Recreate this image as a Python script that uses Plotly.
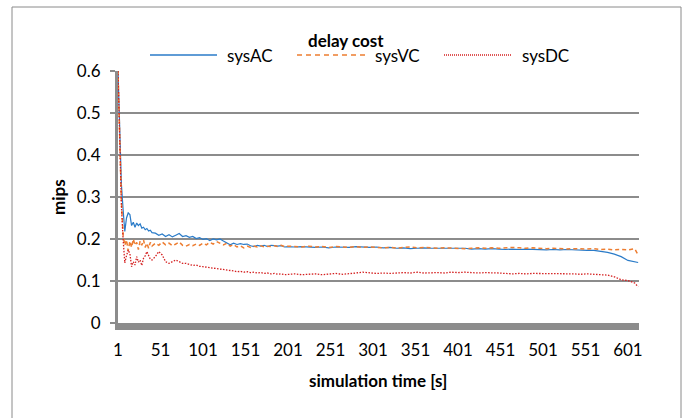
import plotly.graph_objects as go

# ---------------- data ----------------
t_seg_a = list(range(1, 42, 2))          # 1..41 every 2 s
t_seg_b = list(range(45, 202, 4))        # 45..201 every 4 s
t_seg_c = list(range(209, 610, 8)) + [613]  # 209..609 every 8 s, plus last
time_s = t_seg_a + t_seg_b + t_seg_c

sysAC = [
    # 1..41
    0.60, 0.45, 0.33, 0.27, 0.218, 0.25, 0.262, 0.258, 0.232, 0.24,
    0.228, 0.238, 0.232, 0.236, 0.226, 0.228, 0.222, 0.225, 0.219, 0.221, 0.215,
    # 45..201
    0.214, 0.209, 0.212, 0.206, 0.210, 0.205, 0.209, 0.213, 0.206, 0.208,
    0.204, 0.206, 0.201, 0.203, 0.199, 0.201, 0.196, 0.200, 0.198, 0.200,
    0.195, 0.190, 0.186, 0.190, 0.187, 0.189, 0.187, 0.188, 0.184, 0.182,
    0.185, 0.183, 0.185, 0.182, 0.185, 0.184, 0.183, 0.184, 0.181, 0.182,
    # 209..609, 613
    0.181, 0.182, 0.181, 0.180, 0.181, 0.179, 0.181, 0.181, 0.180, 0.182,
    0.181, 0.180, 0.181, 0.179, 0.180, 0.178, 0.179, 0.177, 0.178, 0.179,
    0.178, 0.178, 0.177, 0.178, 0.177, 0.178, 0.176, 0.177, 0.176, 0.177,
    0.176, 0.175, 0.176, 0.175, 0.176, 0.175, 0.175, 0.174, 0.175, 0.174,
    0.175, 0.174, 0.174, 0.173, 0.173, 0.171, 0.168, 0.164, 0.158, 0.149,
    0.146, 0.144,
]

sysVC = [
    # 1..41
    0.60, 0.43, 0.29, 0.21, 0.185, 0.198, 0.172, 0.195, 0.180, 0.200,
    0.185, 0.192, 0.175, 0.195, 0.185, 0.198, 0.180, 0.190, 0.178, 0.192, 0.183,
    # 45..201
    0.190, 0.185, 0.193, 0.186, 0.190, 0.184, 0.188, 0.193, 0.185, 0.183,
    0.187, 0.184, 0.188, 0.185, 0.190, 0.186, 0.192, 0.188, 0.194, 0.190,
    0.186, 0.190, 0.183, 0.187, 0.181, 0.184, 0.179, 0.183, 0.180, 0.183,
    0.181, 0.184, 0.181, 0.183, 0.182, 0.184, 0.182, 0.185, 0.182, 0.183,
    # 209..609, 613
    0.182, 0.181, 0.183, 0.181, 0.182, 0.180, 0.182, 0.181, 0.180, 0.182,
    0.180, 0.181, 0.180, 0.179, 0.180, 0.178, 0.180, 0.181, 0.179, 0.180,
    0.179, 0.178, 0.179, 0.178, 0.178, 0.177, 0.178, 0.179, 0.178, 0.179,
    0.178, 0.179, 0.180, 0.179, 0.178, 0.179, 0.178, 0.177, 0.178, 0.177,
    0.176, 0.177, 0.176, 0.176, 0.177, 0.175, 0.176, 0.174, 0.175, 0.174,
    0.177, 0.162,
]

sysDC = [
    # 1..41
    0.60, 0.42, 0.28, 0.20, 0.143, 0.160, 0.174, 0.165, 0.134, 0.146,
    0.138, 0.158, 0.145, 0.150, 0.137, 0.154, 0.160, 0.170, 0.160, 0.152, 0.150,
    # 45..201
    0.158, 0.170, 0.162, 0.146, 0.142, 0.146, 0.150, 0.146, 0.142, 0.142,
    0.139, 0.137, 0.138, 0.135, 0.134, 0.133, 0.131, 0.130, 0.129, 0.128,
    0.127, 0.126, 0.125, 0.124, 0.122, 0.123, 0.121, 0.122, 0.120, 0.121,
    0.119, 0.120, 0.118, 0.119, 0.117, 0.118, 0.116, 0.117, 0.115, 0.116,
    # 209..609, 613
    0.117, 0.115, 0.116, 0.117, 0.115, 0.117, 0.118, 0.116, 0.117, 0.119,
    0.121, 0.120, 0.118, 0.119, 0.118, 0.119, 0.120, 0.119, 0.121, 0.119,
    0.120, 0.120, 0.119, 0.121, 0.120, 0.121, 0.120, 0.119, 0.120, 0.120,
    0.119, 0.118, 0.117, 0.118, 0.117, 0.118, 0.118, 0.117, 0.117, 0.117,
    0.118, 0.117, 0.116, 0.117, 0.116, 0.115, 0.114, 0.110, 0.103, 0.101,
    0.095, 0.086,
]

x_tickvals = [1, 51, 101, 151, 201, 251, 301, 351, 401, 451, 501, 551, 601]
x_ticktext = ["1", "51", "101", "151", "201", "251", "301", "351", "401", "451", "501", "551", "601"]
y_tickvals = [0, 0.1, 0.2, 0.3, 0.4, 0.5, 0.6]
y_ticktext = ["0", "0.1", "0.2", "0.3", "0.4", "0.5", "0.6"]

series_names = ["sysAC", "sysVC", "sysDC"]
series_values = [sysAC, sysVC, sysDC]

# ---------------- styling ----------------
FONT = "Lato, 'Open Sans', sans-serif"
GRID = "#8c8c8c"
colors = ["#2a7bc8", "#ed7d31", "#d42020"]
dashes = ["solid", "4px,3px", "1.5px,1.5px"]
widths = [1.2, 1.5, 1.3]

W_PX, H_PX = 682, 418
L, R, T, B = 118, 43, 71, 95
PW, PH = W_PX - L - R, H_PX - T - B


def px_x(px):
    return (px - L) / PW


def px_y(py):
    return (H_PX - B - py) / PH


fig = go.Figure()
for name, vals, c, d, w in zip(series_names, series_values, colors, dashes, widths):
    fig.add_trace(go.Scatter(
        x=time_s, y=vals, mode="lines", name=name, showlegend=False,
        line=dict(color=c, width=w, dash=d),
    ))

shapes = []
annotations = []

# outer chart border
shapes.append(dict(type="rect", xref="paper", yref="paper",
                   x0=px_x(12), x1=px_x(681), y0=px_y(430), y1=px_y(7),
                   line=dict(color="#8a8a8a", width=1), fillcolor="rgba(0,0,0,0)",
                   layer="below"))

# legend title
annotations.append(dict(text="<b>delay cost</b>", xref="paper", yref="paper",
                        x=px_x(346), y=px_y(40), showarrow=False,
                        xanchor="center", yanchor="middle",
                        font=dict(family=FONT, size=17, color="#000")))

# manual legend (line samples + labels)
legend_line_x = [(150, 217), (297, 365), (444, 511)]
legend_text_x = [225, 373, 520]
legend_dash = ["solid", "5px,4px", "1px,1px"]
for name, c, (a, b), tx, d in zip(series_names, colors, legend_line_x, legend_text_x, legend_dash):
    shapes.append(dict(type="line", xref="paper", yref="paper",
                       x0=px_x(a), x1=px_x(b), y0=px_y(55), y1=px_y(55),
                       line=dict(color=c, width=1.3, dash=d)))
    annotations.append(dict(text=name, xref="paper", yref="paper",
                            x=px_x(tx), y=px_y(55), showarrow=False,
                            xanchor="left", yanchor="middle",
                            font=dict(family=FONT, size=17, color="#000")))

# axis titles
annotations.append(dict(text="<b>mips</b>", xref="paper", yref="paper",
                        x=px_x(58), y=px_y(197), showarrow=False, textangle=-90,
                        xanchor="center", yanchor="middle",
                        font=dict(family=FONT, size=17, color="#000")))
annotations.append(dict(text="<b>simulation time [s]</b>", xref="paper", yref="paper",
                        x=px_x(378), y=px_y(380), showarrow=False,
                        xanchor="center", yanchor="middle",
                        font=dict(family=FONT, size=17, color="#000")))

fig.update_layout(
    width=W_PX, height=H_PX,
    margin=dict(l=L, r=R, t=T, b=B, pad=0),
    paper_bgcolor="white", plot_bgcolor="white",
    showlegend=False,
    font=dict(family=FONT, size=17, color="#000"),
    shapes=shapes, annotations=annotations,
    xaxis=dict(
        range=[1, 614], tickmode="array", tickvals=x_tickvals, ticktext=x_ticktext,
        showgrid=False, zeroline=False, showline=True, linecolor=GRID, linewidth=7,
        ticks="", tickfont=dict(family=FONT, size=17, color="#000"),
        ticklabelstandoff=6,
    ),
    yaxis=dict(
        range=[0, 0.6], tickmode="array", tickvals=y_tickvals, ticktext=y_ticktext,
        showgrid=True, gridcolor=GRID, gridwidth=2, zeroline=False,
        showline=True, linecolor=GRID, linewidth=3,
        ticks="outside", ticklen=5, tickwidth=2, tickcolor=GRID,
        tickfont=dict(family=FONT, size=17, color="#000"),
        ticklabelstandoff=6,
    ),
)

fig.write_html("out.html")
